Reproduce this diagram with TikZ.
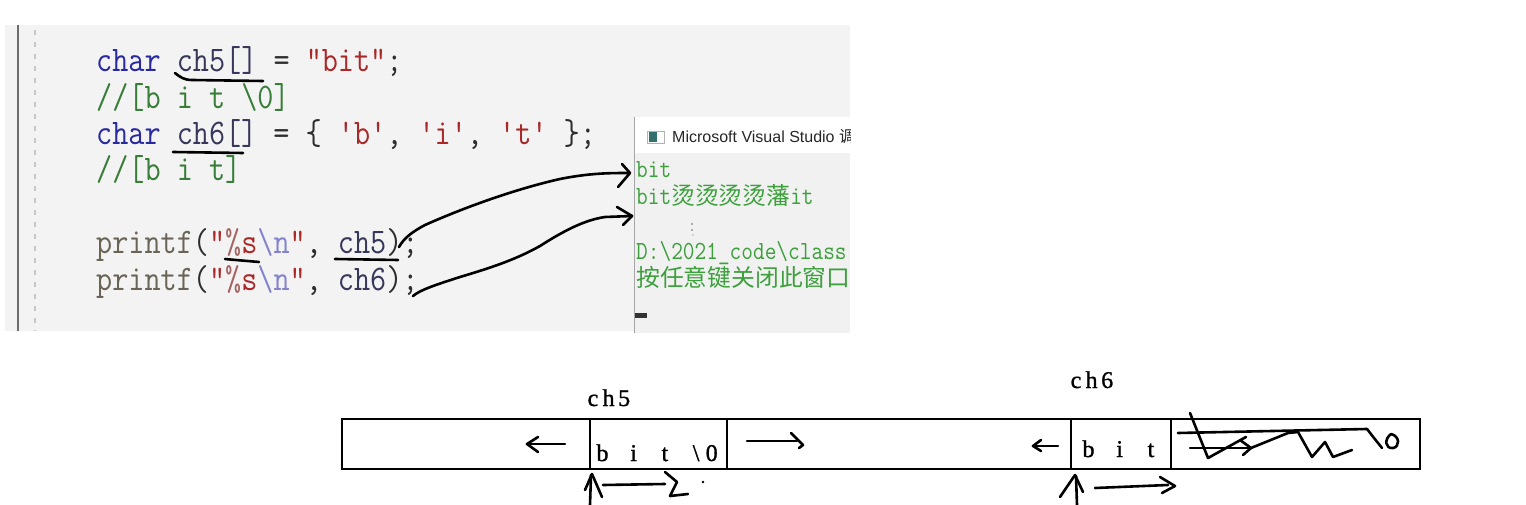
\documentclass[tikz,border=0pt]{standalone}
\usepackage{fontspec}
\usepackage{graphicx}
\newfontfamily\cjkfont{Noto Sans CJK SC}
\newfontfamily\uifont{Liberation Sans}
\newfontfamily\serfont[FakeBold=1.2]{Liberation Serif}
\definecolor{kw}{RGB}{40,40,160}
\definecolor{idn}{RGB}{55,55,90}
\definecolor{strc}{RGB}{170,40,40}
\definecolor{cmt}{RGB}{55,125,55}
\definecolor{fnc}{RGB}{105,100,85}
\definecolor{esc}{RGB}{130,130,205}
\definecolor{pct}{RGB}{165,100,100}
\definecolor{pun}{RGB}{45,45,45}
\definecolor{con}{RGB}{60,160,60}
\definecolor{panel}{RGB}{243,243,243}
\definecolor{conbg}{RGB}{241,241,241}
\newcommand{\ytall}[1]{\scalebox{1}[1.15]{#1}}
\newcommand{\cb}[1]{\makebox[15.6pt]{#1}}
\newcommand{\cj}[1]{{\cjkfont\fontsize{23.8}{26}\selectfont #1}}
\begin{document}
\begin{tikzpicture}[x=1pt,y=-1pt,
  code/.style={anchor=base west, inner sep=0pt, font=\ttfamily\fontsize{31.3}{34}\selectfont},
  cons/.style={anchor=base west, inner sep=0pt, text=con, font=\ttfamily\fontsize{22.7}{25}\selectfont},
  cellbox/.style={draw=black, line width=2.2pt, minimum height=50pt, inner sep=0pt, outer sep=0pt},
  lbl/.style={anchor=base west, inner sep=0pt, font=\serfont\fontsize{24}{26}\selectfont},
  hand/.style={line width=2.6pt, line cap=round, line join=round, black}]
\useasboundingbox (0,0) rectangle (1526,505);
\fill[white] (0,0) rectangle (1526,505);
% code panel
\fill[panel] (5,25) rectangle (850,331);
\draw[line width=2pt, gray!85!black] (18,25) -- (18,331);
\draw[line width=1.2pt, black!22, dash pattern=on 5pt off 7pt] (35,30) -- (35,331);
\node[code] (l1) at (96,72) {\ytall{\textcolor{kw}{char} \textcolor{idn}{ch5[]} \textcolor{pun}{=} \textcolor{strc}{"bit"}\textcolor{pun}{;}}};
\node[code] (l2) at (96,108.3) {\ytall{\textcolor{cmt}{//[b i t \textbackslash0]}}};
\node[code] (l3) at (96,144.6) {\ytall{\textcolor{kw}{char} \textcolor{idn}{ch6[]} \textcolor{pun}{= \{} \textcolor{strc}{'b'}\textcolor{pun}{,} \textcolor{strc}{'i'}\textcolor{pun}{,} \textcolor{strc}{'t'} \textcolor{pun}{\};}}};
\node[code] (l4) at (96,181) {\ytall{\textcolor{cmt}{//[b i t]}}};
\node[code] (l6) at (96,253.5) {\ytall{\textcolor{fnc}{printf}\textcolor{pun}{(}\textcolor{strc}{"}\textcolor{pct}{\%}\textcolor{strc}{s}\textcolor{esc}{\textbackslash n}\textcolor{strc}{"}\textcolor{pun}{,} \textcolor{idn}{ch5}\textcolor{pun}{);}}};
\node[code] (l7) at (96,290) {\ytall{\textcolor{fnc}{printf}\textcolor{pun}{(}\textcolor{strc}{"}\textcolor{pct}{\%}\textcolor{strc}{s}\textcolor{esc}{\textbackslash n}\textcolor{strc}{"}\textcolor{pun}{,} \textcolor{idn}{ch6}\textcolor{pun}{);}}};
% console window
\begin{scope}
\clip (634,117) rectangle (850,333);
\fill[white] (634,117) rectangle (850,333);
\fill[conbg] (634,153) rectangle (850,333);
\draw[line width=1pt, gray!70] (634.5,117) -- (634.5,333);
\draw[line width=0.8pt, gray!60] (647.5,131.5) rectangle (664.5,143.5);
\fill[teal!60!black!80] (648.5,132.5) rectangle (657,142.5);
\node[anchor=base west, inner sep=0pt, font=\uifont\fontsize{16}{18}\selectfont, text=black!85] (title) at (672,143) {Microsoft Visual Studio \cj{\fontsize{16}{18}\selectfont 调}};
\node[cons] (o1) at (636,178) {\ytall{bit}};
\node[cons] (o2) at (636,205) {\ytall{bit}\cj{烫烫烫烫藩}\ytall{it}};
\node[cons] (o3) at (636,259) {\ytall{D:\textbackslash2021\_code\textbackslash class}};
\node[cons] (o4) at (636,286) {\cj{按任意键关闭此窗口}};
\fill[black!80] (635,313) rectangle (647,318);
\end{scope}
\fill[black!60] (692,224) circle (0.8pt) (692,230) circle (0.8pt) (693,235) circle (0.6pt);
% annotations on code
\draw[hand] (175,73) .. controls (180,77) and (184,80) .. (192,80) -- (263,81);
\draw[hand] (173,152) -- (243,153);
\draw[hand] (225,259) .. controls (235,260) and (248,261) .. (259,262);
\draw[hand] (335,259) -- (398,260);
\coordinate (s1) at (399,247);
\coordinate (t1) at (630,173);
\coordinate (s2) at (413,296);
\coordinate (t2) at (632,216);
\draw[hand] (s1) .. controls (404,238) and (412,232) .. (425,225) .. controls (470,205) and (520,188) .. (560,179) .. controls (590,173) and (610,173) .. (t1);
\draw[hand] (622,164) -- (t1) -- (618,187);
\draw[hand] (s2) .. controls (420,290) and (435,285) .. (460,277) .. controls (490,268) and (515,260) .. (540,246) .. controls (565,230) and (585,220) .. (605,217) -- (t2);
\draw[hand] (617,207) -- (t2) -- (623,225);
% memory strip
\node[cellbox, minimum width=248pt] (c1) at (466,444) {};
\node[cellbox, minimum width=137pt] (c2) at (658.5,444) {};
\node[cellbox, minimum width=344pt] (c3) at (899,444) {};
\node[cellbox, minimum width=100pt] (c4) at (1121,444) {};
\node[cellbox, minimum width=249pt] (c5) at (1295.5,444) {};
\node[lbl] (n5) at (585,406) {\cb{c}\cb{h}\cb{5}};
\node[lbl] (n6) at (1068,388) {\cb{c}\cb{h}\cb{6}};
\node[lbl] (v5) at (594.5,461) {\cb{b}\cb{}\cb{i}\cb{}\cb{t}\cb{}\cb{\textbackslash}\cb{0}};
\node[lbl] (v6) at (1080.5,457) {\cb{b}\cb{}\cb{i}\cb{}\cb{t}};
% hand arrows in strip
\draw[hand] (565,444) -- (527,444);
\draw[hand] (538,437) -- (527,444) -- (538,452);
\draw[hand] (747,441) -- (797,441);
\draw[hand] (791,433) -- (803,445) -- (799,448);
\draw[hand] (1058,446) -- (1033,446);
\draw[hand] (1041,440) -- (1033,446) -- (1041,451);
% arrows below ch5
\draw[hand] (590,505) -- (591,475);
\draw[hand] (585,490) -- (592,474) -- (602,497);
\draw[hand] (603,485) -- (665,484);
\draw[hand] (665,472) -- (677,482) -- (670,496) -- (688,494);
\fill (703,482) circle (1.3pt);
% arrows below ch6
\draw[hand] (1077,505) -- (1076,476);
\draw[hand] (1060,497) -- (1075,475) -- (1083,492);
\draw[hand] (1095,488) -- (1168,485);
\draw[hand] (1160,477) -- (1175,486) -- (1162,493);
% scribble in last cell
\draw[hand] (1178,433) -- (1367,429);
\draw[hand] (1190,413) -- (1208,458) -- (1246,437);
\draw[hand] (1190,448) -- (1251,448);
\draw[hand] (1240,440) -- (1251,448) -- (1243,455);
\draw[hand] (1251,448) -- (1288,433) -- (1298,432) -- (1312,457) -- (1325,442) -- (1333,457) -- (1352,450);
\draw[hand] (1367,429) -- (1374,438) -- (1382,448);
\draw[hand] (1391,434) .. controls (1384,439) and (1385,449) .. (1393,448) .. controls (1400,447) and (1400,436) .. (1391,434);
\end{tikzpicture}
\end{document}
